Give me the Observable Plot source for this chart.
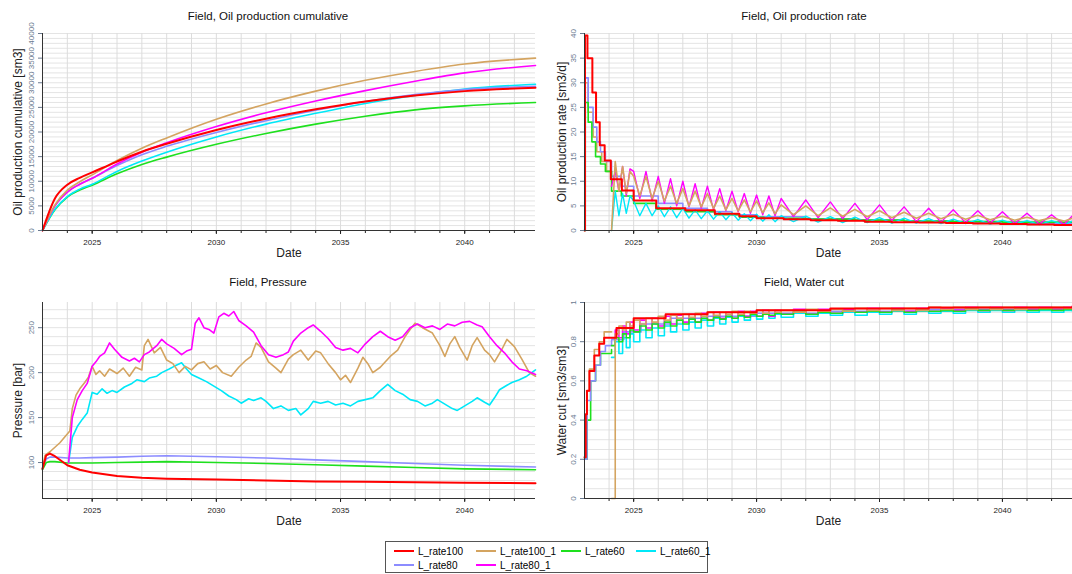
<!DOCTYPE html>
<html>
<head>
<meta charset="utf-8">
<script src="https://cdn.jsdelivr.net/npm/d3@7"></script>
<script src="https://cdn.jsdelivr.net/npm/@observablehq/plot@0.6"></script>
<style>
  body { margin: 0; background: #fff; font-family: "Liberation Sans", Arial, sans-serif; }
  #wrap { width: 1072px; }
  .row { display: flex; }
  .row2 { margin-top: 8px; }
  .panel { width: 536px; }
  .title { height: 25px; box-sizing: border-box; padding-top: 10px; font-size: 11.5px; text-align: center; line-height: 12px; color: #111; }
  #legend { margin: 15px 0 0 385px; width: 323px; height: 32px; border: 1px solid #555; box-sizing: border-box;
            display: grid; grid-template-columns: 82px 85px 75px 80px; font-size: 10px; padding: 2px 0 0 8px; }
  #legend span { display: flex; align-items: center; height: 14px; }
  #legend i { display: inline-block; width: 20px; height: 2px; margin-right: 4px; }
</style>
</head>
<body>
<div id="wrap">
  <div class="row"><div class="panel" id="p1"></div><div class="panel" id="p2"></div></div>
  <div class="row row2"><div class="panel" id="p3"></div><div class="panel" id="p4"></div></div>
  <div id="legend"></div>
</div>
<script>
const names = ["L_rate100", "L_rate100_1", "L_rate60", "L_rate60_1", "L_rate80", "L_rate80_1"];
const colors = ["#ff0000", "#d4a460", "#1ee01e", "#00e8f8", "#8c8cff", "#ff00ff"];
const xTicks = [2025, 2030, 2035, 2040];

// cumulative oil
const cumYr = [2023.0, 2023.5, 2024, 2024.5, 2025, 2026, 2027, 2028, 2030, 2032, 2034, 2036, 2038, 2040, 2042.85];
const cumRed = [0, 6500, 9300, 10700, 11800, 14000, 16000, 17600, 20400, 22700, 24600, 26200, 27400, 28300, 29000];
const cumTan = [0, 5200, 8200, 9900, 11300, 14200, 16700, 18800, 22600, 25700, 28300, 30500, 32300, 33800, 35000];
const cumGreen = [0, 4200, 6800, 8200, 9200, 11500, 13400, 14900, 17500, 19700, 21600, 23200, 24500, 25300, 26000];
const cumCyan = [0, 4300, 6900, 8400, 9400, 12000, 14100, 15900, 19000, 21600, 23800, 25800, 27400, 28700, 29700];
const cumBlue = [0, 5000, 7800, 9400, 10600, 13200, 15400, 17100, 19900, 22300, 24400, 26200, 27600, 28600, 29300];
const cumMag = [0, 5000, 7800, 9400, 10600, 13500, 15900, 17800, 21100, 23900, 26300, 28400, 30300, 32000, 33500];

// pressure, smooth series
const presYr = [2023.0, 2023.15, 2023.3, 2023.5, 2024, 2024.5, 2025, 2026, 2027, 2028, 2030, 2032, 2034, 2036, 2038, 2040, 2042.85];
const presRed = [93, 108, 110, 107, 97, 92, 89, 85, 83, 82, 81, 80, 79, 78.5, 78, 77.5, 77];
const presGreen = [92, 100, 101, 101, 99.5, 99.5, 99.5, 100, 100.5, 101, 100, 99, 97.5, 96, 94.5, 93, 92];
const presBlue = [93, 104, 106, 106, 105, 105, 105.5, 106, 107, 107.5, 106.5, 105, 103, 101, 99, 97, 95];
// pressure, noisy series
const presTanYr = [2023.0, 2023.1, 2023.3, 2023.7, 2024.1, 2024.2, 2024.35, 2024.5, 2024.7, 2024.85, 2025.0, 2025.15, 2025.3, 2025.5, 2025.7, 2026, 2026.25, 2026.5, 2026.75, 2027.0, 2027.1, 2027.25, 2027.5, 2027.75, 2028, 2028.25, 2028.5, 2028.75, 2029, 2029.25, 2029.5, 2029.75, 2030, 2030.25, 2030.6, 2030.9, 2031.2, 2031.4, 2031.6, 2031.8, 2032.1, 2032.4, 2032.6, 2032.9, 2033.1, 2033.4, 2033.7, 2034.0, 2034.2, 2034.5, 2034.8, 2035.0, 2035.2, 2035.4, 2035.7, 2035.9, 2036.1, 2036.3, 2036.6, 2037.0, 2037.3, 2037.6, 2037.8, 2038.0, 2038.3, 2038.7, 2039.0, 2039.2, 2039.4, 2039.6, 2039.8, 2040.1, 2040.3, 2040.5, 2040.8, 2041.0, 2041.2, 2041.5, 2041.7, 2042.0, 2042.3, 2042.6, 2042.85];
const presTan = [93, 108, 112, 122, 135, 160, 175, 182, 189, 195, 207, 198, 202, 196, 204, 199, 205, 196, 206, 203, 230, 237, 222, 228, 214, 210, 200, 207, 203, 210, 212, 204, 208, 200, 196, 206, 214, 218, 233, 228, 212, 205, 200, 215, 220, 225, 214, 224, 222, 210, 200, 192, 197, 189, 205, 217, 210, 200, 206, 218, 225, 240, 248, 255, 250, 244, 230, 218, 232, 240, 228, 214, 230, 239, 225, 220, 212, 226, 237, 229, 215, 200, 196];
const presMagYr = [2024.05, 2024.2, 2024.4, 2024.6, 2024.8, 2025.0, 2025.15, 2025.3, 2025.5, 2025.7, 2025.9, 2026.2, 2026.5, 2026.7, 2026.9, 2027.1, 2027.3, 2027.6, 2027.8, 2028.0, 2028.3, 2028.6, 2028.8, 2029.0, 2029.15, 2029.3, 2029.5, 2029.7, 2029.9, 2030.1, 2030.3, 2030.5, 2030.7, 2030.9, 2031.2, 2031.5, 2031.8, 2032.1, 2032.4, 2032.7, 2032.9, 2033.1, 2033.4, 2033.7, 2033.9, 2034.2, 2034.5, 2034.8, 2035.1, 2035.4, 2035.7, 2036.0, 2036.3, 2036.6, 2036.9, 2037.2, 2037.5, 2037.8, 2038.1, 2038.4, 2038.7, 2039.0, 2039.3, 2039.6, 2039.9, 2040.2, 2040.5, 2040.7, 2041.0, 2041.3, 2041.6, 2041.9, 2042.2, 2042.5, 2042.85];
const presMag = [100, 150, 170, 180, 188, 207, 212, 218, 222, 233, 226, 217, 213, 216, 212, 220, 223, 230, 237, 232, 227, 220, 224, 226, 255, 261, 250, 248, 244, 262, 266, 263, 268, 258, 252, 245, 230, 220, 217, 220, 223, 235, 244, 250, 253, 246, 238, 228, 225, 227, 222, 232, 240, 246, 240, 236, 240, 250, 254, 250, 252, 248, 254, 252, 256, 257, 253, 251, 240, 230, 222, 212, 204, 202, 198];
const presCyanYr = [2024.05, 2024.2, 2024.4, 2024.6, 2024.8, 2025.0, 2025.2, 2025.4, 2025.6, 2025.8, 2026.0, 2026.3, 2026.6, 2026.8, 2027.1, 2027.3, 2027.6, 2027.8, 2028.1, 2028.3, 2028.6, 2028.8, 2029.0, 2029.3, 2029.6, 2029.9, 2030.2, 2030.5, 2030.8, 2031.0, 2031.3, 2031.5, 2031.8, 2032.0, 2032.3, 2032.6, 2032.9, 2033.2, 2033.4, 2033.7, 2033.9, 2034.2, 2034.5, 2034.8, 2035.1, 2035.4, 2035.7, 2036.0, 2036.3, 2036.6, 2036.9, 2037.2, 2037.5, 2037.8, 2038.1, 2038.4, 2038.7, 2038.9, 2039.2, 2039.5, 2039.7, 2040.0, 2040.3, 2040.5, 2040.8, 2041.0, 2041.2, 2041.4, 2041.7, 2041.9, 2042.2, 2042.5, 2042.85];
const presCyan = [100, 128, 140, 148, 155, 178, 176, 182, 177, 180, 178, 184, 188, 192, 190, 194, 196, 200, 204, 207, 211, 204, 198, 194, 190, 185, 180, 174, 170, 166, 171, 169, 172, 168, 160, 163, 158, 160, 153, 160, 168, 166, 168, 164, 166, 163, 168, 170, 172, 180, 187, 180, 176, 170, 168, 163, 166, 170, 165, 160, 158, 163, 168, 172, 167, 164, 172, 181, 186, 189, 192, 196, 203];

// oil rate, step series
const rateRedYr = [2023.0, 2023.02, 2023.12, 2023.32, 2023.47, 2023.62, 2023.82, 2024.07, 2024.52, 2025.0, 2025.92, 2027.1, 2028.3, 2029.3, 2030.0, 2031.1, 2032.2, 2033.3, 2034.4, 2035.5, 2036.6, 2037.7, 2038.8, 2039.9, 2041.0, 2042.1, 2042.85];
const rateRed = [0, 39.6, 35, 28, 22, 17.3, 14.2, 10.4, 8.1, 6.1, 4.5, 4.1, 3.4, 2.9, 2.5, 2.3, 2.1, 2.0, 1.8, 1.7, 1.6, 1.5, 1.4, 1.3, 1.2, 1.1, 1.1];
const rateBlueYr = [2023.0, 2023.03, 2023.15, 2023.35, 2023.5, 2023.65, 2023.85, 2024.1, 2024.5, 2025.0, 2026.0, 2027.0, 2028.0, 2029.0, 2030.0, 2032.0, 2034.0, 2036.0, 2038.0, 2040.0, 2042.85];
const rateBlue = [0, 31, 25, 21, 18, 16, 14, 11, 9, 7, 5.5, 4.5, 3.8, 3.2, 2.8, 2.4, 2.1, 1.9, 1.7, 1.5, 1.4];
const rateGreenYr = [2023.0, 2023.03, 2023.15, 2023.3, 2023.45, 2023.65, 2023.85, 2024.1, 2024.5, 2025.0, 2025.9, 2027.1, 2028.3, 2029.3, 2030.3, 2032.0, 2034.0, 2036.0, 2038.0, 2040.0, 2042.85];
const rateGreen = [0, 26, 22, 18, 15, 13.5, 12, 8, 7, 5.5, 4.3, 3.8, 3.2, 2.7, 2.5, 2.3, 2.1, 1.9, 1.8, 1.7, 1.6];
const rateTanEarlyYr = [2023.0, 2023.03, 2023.15, 2023.35, 2023.5, 2023.7, 2023.9, 2024.1];
const rateTanEarly = [0, 30, 24, 19, 16, 14, 12, 12];
// noisy series share these dates
const qYr = [2024.1, 2024.25, 2024.4, 2024.55, 2024.7, 2024.85, 2025.0, 2025.25, 2025.5, 2025.75, 2026.0, 2026.25, 2026.5, 2026.75, 2027.0, 2027.25, 2027.5, 2027.75, 2028.0, 2028.25, 2028.5, 2028.75, 2029.0, 2029.25, 2029.5, 2029.75, 2030.0, 2030.25, 2030.5, 2030.75, 2031.0, 2031.5, 2032.0, 2032.5, 2033.0, 2033.5, 2034.0, 2034.5, 2035.0, 2035.5, 2036.0, 2036.5, 2037.0, 2037.5, 2038.0, 2038.5, 2039.0, 2039.5, 2040.0, 2040.5, 2041.0, 2041.5, 2042.0, 2042.5, 2042.85];
const rateTan = [0, 14, 8, 13, 7.5, 12, 11, 7, 11, 6.5, 10, 6, 9, 5.5, 8.5, 5, 8, 4.8, 7.5, 4.5, 7, 4.2, 6.5, 4, 6.2, 3.8, 6, 3.6, 5.6, 3.4, 5.2, 3.2, 5, 3, 4.6, 2.9, 4.3, 2.8, 4, 2.6, 3.7, 2.5, 3.5, 2.4, 3.3, 2.3, 3.1, 2.2, 2.9, 2.1, 2.7, 2.0, 2.6, 1.9, 2.5];
const rateMag = [9, 12, 8, 13, 7, 12.5, 12, 6.5, 12, 6, 11, 5.5, 10.5, 5, 10, 4.8, 9.5, 4.5, 9, 4.2, 8.5, 4, 8, 3.8, 7.5, 3.5, 7.2, 3.2, 7, 3, 6.5, 2.8, 6.2, 2.6, 5.8, 2.4, 5.5, 2.2, 5.2, 2, 4.8, 1.8, 4.5, 1.7, 4.2, 1.6, 4, 1.5, 3.8, 1.4, 3.5, 1.3, 3.2, 1.2, 3];
const rateCyan = [0, 8, 3, 7.5, 3.5, 7, 6, 3, 5.5, 3, 5, 2.8, 4.8, 2.6, 4.5, 2.5, 4.2, 2.4, 4, 2.3, 3.8, 2.2, 3.6, 2.1, 3.4, 2, 3.3, 1.9, 3.2, 1.8, 3, 1.8, 2.9, 1.7, 2.8, 1.6, 2.7, 1.6, 2.6, 1.5, 2.5, 1.5, 2.4, 1.4, 2.3, 1.4, 2.2, 1.3, 2.1, 1.3, 2, 1.2, 2, 1.2, 1.9];

// water cut
const wcRedYr = [2023.0, 2023.05, 2023.1, 2023.2, 2023.4, 2023.6, 2023.8, 2024.3, 2025.0, 2026.3, 2028.0, 2030.0, 2033.0, 2037.0, 2042.85];
const wcRed = [0.21, 0.43, 0.55, 0.65, 0.73, 0.79, 0.82, 0.87, 0.92, 0.94, 0.95, 0.96, 0.97, 0.975, 0.98];
const wcBlueYr = [2023.0, 2023.1, 2023.25, 2023.45, 2023.65, 2023.85, 2024.1, 2024.6, 2025.3, 2026.5, 2028, 2030, 2033, 2037, 2042.85];
const wcBlue = [0.2, 0.5, 0.6, 0.68, 0.75, 0.78, 0.81, 0.85, 0.89, 0.92, 0.93, 0.945, 0.955, 0.965, 0.97];
const wcGreenEarlyYr = [2023.0, 2023.1, 2023.25, 2023.45, 2023.65, 2024.1];
const wcGreenEarly = [0.2, 0.4, 0.6, 0.68, 0.74, 0.76];
const wcTanEarlyYr = [2023.0, 2023.1, 2023.2, 2023.4, 2023.6, 2023.8, 2024.1];
const wcTanEarly = [0.2, 0.55, 0.66, 0.76, 0.8, 0.85, 0.85];
const wcTan = [0, .84, .88, .86, .9, .88, .91, .89, .92, .9, .93, .91, .935, .92, .94, .925, .945, .93, .95, .935, .95, .94, .955, .94, .955, .945, .96, .945, .96, .95, .96, .95, .965, .955, .965, .955, .97, .96, .97, .96, .97, .96, .975, .965, .975, .965, .975, .965, .975, .965, .975, .97, .975, .97, .975];
const wcCyan = [.72, .8, .74, .82, .77, .84, .8, .86, .82, .87, .83, .88, .85, .89, .86, .9, .87, .91, .88, .92, .89, .925, .9, .93, .91, .935, .915, .94, .92, .94, .925, .945, .93, .945, .935, .95, .935, .95, .94, .955, .94, .955, .945, .955, .945, .96, .95, .96, .95, .96, .95, .96, .95, .96, .955];
const wcMag = [.82, .86, .82, .88, .84, .9, .86, .91, .87, .92, .88, .93, .89, .935, .9, .94, .9, .945, .91, .95, .92, .95, .92, .955, .93, .955, .93, .96, .93, .96, .94, .965, .94, .965, .945, .965, .95, .97, .95, .97, .955, .97, .955, .97, .96, .975, .96, .975, .96, .975, .965, .975, .965, .975, .97];
const wcGreen = [.78, .82, .8, .84, .82, .86, .85, .88, .86, .89, .87, .9, .88, .91, .89, .915, .9, .92, .91, .925, .915, .93, .92, .935, .925, .94, .93, .94, .935, .945, .94, .95, .94, .95, .945, .955, .95, .955, .95, .96, .95, .96, .955, .96, .955, .965, .96, .965, .96, .965, .96, .965, .96, .965, .965];

const pts = (xs, ys) => xs.map((x, i) => ({x, y: ys[i]}));

function panel(el, cfg) {
  const marks = [
    Plot.ruleY(cfg.grid, {stroke: "#e4e4e4", strokeWidth: 1}),
    Plot.ruleX(d3.range(2024, 2043), {stroke: "#dcdcdc", strokeWidth: 1}),
    ...cfg.lines.map(l => Plot.line(l.data, {x: "x", y: "y", stroke: l.color, strokeWidth: l.w || 1.6, curve: l.curve || "linear"})),
    Plot.axisX({ticks: xTicks, tickFormat: d => String(d), tickSize: 4, fontSize: 8, label: null}),
    Plot.axisX({ticks: d3.range(2024, 2043), tickFormat: () => "", tickSize: 3, label: null}),
    Plot.axisX({ticks: [], label: "Date", fontSize: 12, labelAnchor: "center", labelArrow: "none", labelOffset: 26}),
    Plot.axisY({ticks: cfg.yTicks, tickRotate: -90, tickSize: 4, fontSize: 8, color: "#6a7a90", tickFormat: cfg.fmt || (d => String(d)), label: null}),
    Plot.axisY({ticks: [], label: cfg.label, fontSize: 12, labelAnchor: "center", labelArrow: "none", labelOffset: cfg.labelOffset}),
    Plot.ruleX([2023.0], {stroke: "#333"}),
    Plot.ruleY([cfg.y[0]], {stroke: "#333"})
  ];
  const chart = Plot.plot({
    width: 536, height: cfg.height,
    marginLeft: cfg.ml, marginRight: cfg.mr, marginTop: cfg.mt, marginBottom: 28,
    style: {fontFamily: "Liberation Sans, Arial, sans-serif", fontSize: "12px", color: "#222", overflow: "visible"},
    x: {domain: [2023.0, 2042.85]},
    y: {domain: cfg.y},
    marks
  });
  const t = document.createElement("div");
  t.className = "title"; t.textContent = cfg.title;
  const box = document.getElementById(el);
  box.append(t, chart);
}

panel("p1", {
  title: "Field, Oil production cumulative", height: 233, ml: 42, mr: 1, mt: 8,
  y: [0, 40000], yTicks: d3.range(0, 40001, 5000), grid: d3.range(1000, 40001, 1000),
  label: "Oil production cumulative [sm3]", labelOffset: 29,
  lines: [
    {data: pts(cumYr, cumGreen), color: colors[2], curve: "monotone-x"},
    {data: pts(cumYr, cumCyan), color: colors[3], curve: "monotone-x"},
    {data: pts(cumYr, cumBlue), color: colors[4], curve: "monotone-x"},
    {data: pts(cumYr, cumMag), color: colors[5], curve: "monotone-x"},
    {data: pts(cumYr, cumTan), color: colors[1], curve: "monotone-x"},
    {data: pts(cumYr, cumRed), color: colors[0], curve: "monotone-x", w: 2}
  ]
});

panel("p2", {
  title: "Field, Oil production rate", height: 233, ml: 48, mr: 0, mt: 8,
  y: [0, 40], yTicks: d3.range(0, 41, 5), grid: d3.range(1, 41, 1),
  label: "Oil production rate [sm3/d]", labelOffset: 27,
  lines: [
    {data: pts(rateTanEarlyYr, rateTanEarly), color: colors[1], curve: "step-after"},
    {data: pts(rateBlueYr, rateBlue), color: colors[4], curve: "step-after"},
    {data: pts(rateGreenYr, rateGreen), color: colors[2], curve: "step-after"},
    {data: pts(qYr, rateCyan), color: colors[3], w: 1.4},
    {data: pts(qYr, rateMag), color: colors[5], w: 1.4},
    {data: pts(qYr, rateTan), color: colors[1], w: 1.6},
    {data: pts(rateRedYr, rateRed), color: colors[0], curve: "step-after", w: 2}
  ]
});

panel("p3", {
  title: "Field, Pressure", height: 235, ml: 42, mr: 1, mt: 11,
  y: [60, 278], yTicks: [100, 150, 200, 250], grid: d3.range(70, 278, 10),
  label: "Pressure [bar]", labelOffset: 29,
  lines: [
    {data: pts(presYr, presBlue), color: colors[4]},
    {data: pts(presYr, presGreen), color: colors[2]},
    {data: pts(presCyanYr, presCyan), color: colors[3]},
    {data: pts(presTanYr, presTan), color: colors[1]},
    {data: pts(presMagYr, presMag), color: colors[5]},
    {data: pts(presYr, presRed), color: colors[0], w: 2}
  ]
});

panel("p4", {
  title: "Field, Water cut", height: 235, ml: 48, mr: 0, mt: 11,
  y: [0, 1], yTicks: d3.range(0, 1.01, 0.2), grid: d3.range(0.05, 1.001, 0.05),
  fmt: d => d === 0 ? "0" : d3.format(".1~f")(d),
  label: "Water cut [sm3/sm3]", labelOffset: 27,
  lines: [
    {data: pts(wcTanEarlyYr, wcTanEarly), color: colors[1], curve: "step-after"},
    {data: pts(wcGreenEarlyYr, wcGreenEarly), color: colors[2], curve: "step-after"},
    {data: pts(wcBlueYr, wcBlue), color: colors[4], curve: "step-after"},
    {data: pts(qYr, wcCyan), color: colors[3], curve: "step-after"},
    {data: pts(qYr, wcMag), color: colors[5], curve: "step-after"},
    {data: pts(qYr, wcGreen), color: colors[2], curve: "step-after"},
    {data: pts(qYr, wcTan), color: colors[1], curve: "step-after"},
    {data: pts(wcRedYr, wcRed), color: colors[0], curve: "step-after", w: 2}
  ]
});

const legend = document.getElementById("legend");
names.forEach((n, i) => {
  const s = document.createElement("span");
  s.innerHTML = `<i style="background:${colors[i]}"></i>${n}`;
  legend.append(s);
});
</script>
</body>
</html>
